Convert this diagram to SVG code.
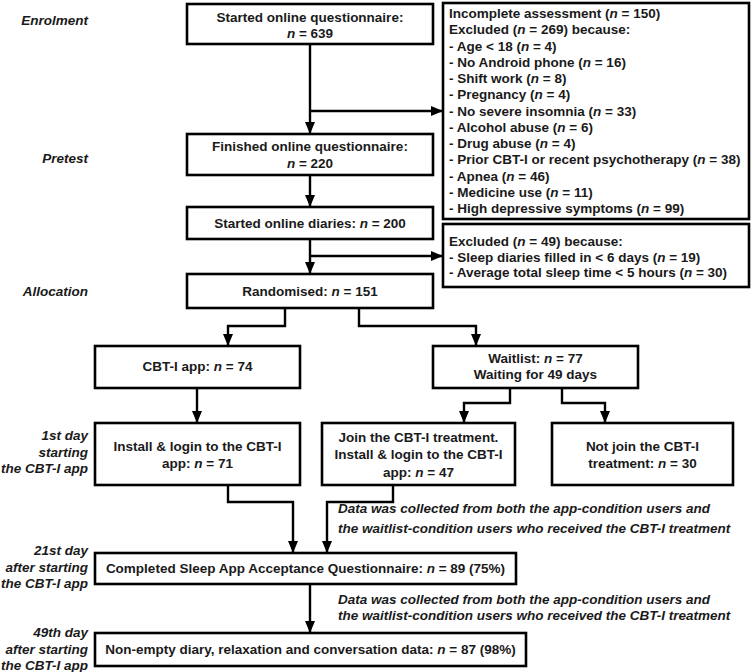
<svg xmlns="http://www.w3.org/2000/svg" width="752" height="672" viewBox="0 0 752 672">
<style>
.box{fill:#fff;stroke:#000;stroke-width:2.6}
.t{font-family:"Liberation Sans",Arial,sans-serif;font-weight:bold;font-size:13.5px;fill:#1a1a1a}
.c{text-anchor:middle}
.lab{font-family:"Liberation Sans",Arial,sans-serif;font-weight:bold;font-style:italic;font-size:13.5px;fill:#1a1a1a;text-anchor:end}
.note{font-family:"Liberation Sans",Arial,sans-serif;font-weight:bold;font-style:italic;font-size:13.5px;fill:#1a1a1a}
.i{font-style:italic}
.ln{fill:none;stroke:#000;stroke-width:2.4}
.ar{marker-end:url(#ah)}
</style>
<defs>
<marker id="ah" viewBox="0 0 12 10" refX="12" refY="5" markerWidth="12" markerHeight="10" markerUnits="userSpaceOnUse" orient="auto">
<path d="M0,0 L12,5 L0,10 z" fill="#000"/>
</marker>
</defs>
<rect width="752" height="672" fill="#fff"/>

<g id="labels">
<text class="lab" x="88" y="25">Enrolment</text>
<text class="lab" x="88" y="163">Pretest</text>
<text class="lab" x="88" y="296">Allocation</text>
<text class="lab" x="88" y="440">1st day</text>
<text class="lab" x="88" y="457">starting</text>
<text class="lab" x="88" y="473">the CBT-I app</text>
<text class="lab" x="88" y="555">21st day</text>
<text class="lab" x="88" y="572">after starting</text>
<text class="lab" x="88" y="588">the CBT-I app</text>
<text class="lab" x="88" y="637">49th day</text>
<text class="lab" x="88" y="654">after starting</text>
<text class="lab" x="88" y="670">the CBT-I app</text>
</g>

<g id="connectors">
<path class="ln ar" d="M310,44 V134"/>
<path class="ln ar" d="M310,111 H443"/>
<path class="ln ar" d="M310,175 V207"/>
<path class="ln ar" d="M310,239 V274"/>
<path class="ln ar" d="M310,256 H443"/>
<path class="ln ar" d="M285,308 V326 H228 V346"/>
<path class="ln ar" d="M359,308 V326 H476 V346"/>
<path class="ln ar" d="M197,388 V423"/>
<path class="ln ar" d="M510,388 V403 H464 V423"/>
<path class="ln ar" d="M562,388 V403 H605 V423"/>
<path class="ln ar" d="M228,485 V502 H293 V553"/>
<path class="ln ar" d="M393,485 V502 H327 V553"/>
<path class="ln ar" d="M310,584 V633"/>
</g>

<g id="n-started">
<rect class="box" x="187" y="4" width="246" height="40"/>
<text class="t c" x="310" y="22">Started online questionnaire:</text>
<text class="t c" x="310" y="38"><tspan class="i">n</tspan> = 639</text>
</g>

<g id="n-excluded1">
<rect class="box" x="443" y="3" width="306" height="216"/>
<text class="t" x="449" y="18">Incomplete assessment (<tspan class="i">n</tspan> = 150)</text>
<text class="t" x="449" y="34.25">Excluded (<tspan class="i">n</tspan> = 269) because:</text>
<text class="t" x="449" y="50.5">- Age &lt; 18 (<tspan class="i">n</tspan> = 4)</text>
<text class="t" x="449" y="66.75">- No Android phone (<tspan class="i">n</tspan> = 16)</text>
<text class="t" x="449" y="83">- Shift work (<tspan class="i">n</tspan> = 8)</text>
<text class="t" x="449" y="99.25">- Pregnancy (<tspan class="i">n</tspan> = 4)</text>
<text class="t" x="449" y="115.5">- No severe insomnia (<tspan class="i">n</tspan> = 33)</text>
<text class="t" x="449" y="131.75">- Alcohol abuse (<tspan class="i">n</tspan> = 6)</text>
<text class="t" x="449" y="148">- Drug abuse (<tspan class="i">n</tspan> = 4)</text>
<text class="t" x="449" y="164.25">- Prior CBT-I or recent psychotherapy (<tspan class="i">n</tspan> = 38)</text>
<text class="t" x="449" y="180.5">- Apnea (<tspan class="i">n</tspan> = 46)</text>
<text class="t" x="449" y="196.75">- Medicine use (<tspan class="i">n</tspan> = 11)</text>
<text class="t" x="449" y="213">- High depressive symptoms (<tspan class="i">n</tspan> = 99)</text>
</g>

<g id="n-finished">
<rect class="box" x="187" y="134" width="246" height="41"/>
<text class="t c" x="310" y="151">Finished online questionnaire:</text>
<text class="t c" x="310" y="168"><tspan class="i">n</tspan> = 220</text>
</g>

<g id="n-diaries">
<rect class="box" x="187" y="207" width="246" height="32"/>
<text class="t c" x="310" y="228">Started online diaries: <tspan class="i">n</tspan> = 200</text>
</g>

<g id="n-excluded2">
<rect class="box" x="443" y="224" width="306" height="63"/>
<text class="t" x="449" y="246">Excluded (<tspan class="i">n</tspan> = 49) because:</text>
<text class="t" x="449" y="262">- Sleep diaries filled in &lt; 6 days (<tspan class="i">n</tspan> = 19)</text>
<text class="t" x="449" y="277">- Average total sleep time &lt; 5 hours (<tspan class="i">n</tspan> = 30)</text>
</g>

<g id="n-randomised">
<rect class="box" x="187" y="274" width="246" height="34"/>
<text class="t c" x="310" y="296">Randomised: <tspan class="i">n</tspan> = 151</text>
</g>

<g id="n-app">
<rect class="box" x="95" y="346" width="205" height="42"/>
<text class="t c" x="197.5" y="371">CBT-I app: <tspan class="i">n</tspan> = 74</text>
</g>

<g id="n-waitlist">
<rect class="box" x="433" y="346" width="205" height="42"/>
<text class="t c" x="535.5" y="363">Waitlist: <tspan class="i">n</tspan> = 77</text>
<text class="t c" x="535.5" y="379">Waiting for 49 days</text>
</g>

<g id="n-install">
<rect class="box" x="95" y="423" width="205" height="62"/>
<text class="t c" x="197.5" y="451">Install &amp; login to the CBT-I</text>
<text class="t c" x="197.5" y="468">app: <tspan class="i">n</tspan> = 71</text>
</g>

<g id="n-join">
<rect class="box" x="322" y="423" width="193" height="62"/>
<text class="t c" x="418.5" y="442">Join the CBT-I treatment.</text>
<text class="t c" x="418.5" y="459">Install &amp; login to the CBT-I</text>
<text class="t c" x="418.5" y="477">app: <tspan class="i">n</tspan> = 47</text>
</g>

<g id="n-notjoin">
<rect class="box" x="552" y="423" width="181" height="62"/>
<text class="t c" x="642.5" y="451">Not join the CBT-I</text>
<text class="t c" x="642.5" y="468">treatment: <tspan class="i">n</tspan> = 30</text>
</g>

<g id="notes">
<text class="note" x="338" y="513">Data was collected from both the app-condition users and</text>
<text class="note" x="338" y="533">the waitlist-condition users who received the CBT-I treatment</text>
<text class="note" x="338" y="604">Data was collected from both the app-condition users and</text>
<text class="note" x="338" y="620">the waitlist-condition users who received the CBT-I treatment</text>
</g>

<g id="n-completed">
<rect class="box" x="95" y="553" width="421" height="31"/>
<text class="t c" x="305.5" y="573">Completed Sleep App Acceptance Questionnaire: <tspan class="i">n</tspan> = 89 (75%)</text>
</g>

<g id="n-nonempty">
<rect class="box" x="95" y="633" width="431" height="33"/>
<text class="t c" x="310.5" y="654">Non-empty diary, relaxation and conversation data: <tspan class="i">n</tspan> = 87 (98%)</text>
</g>
</svg>
